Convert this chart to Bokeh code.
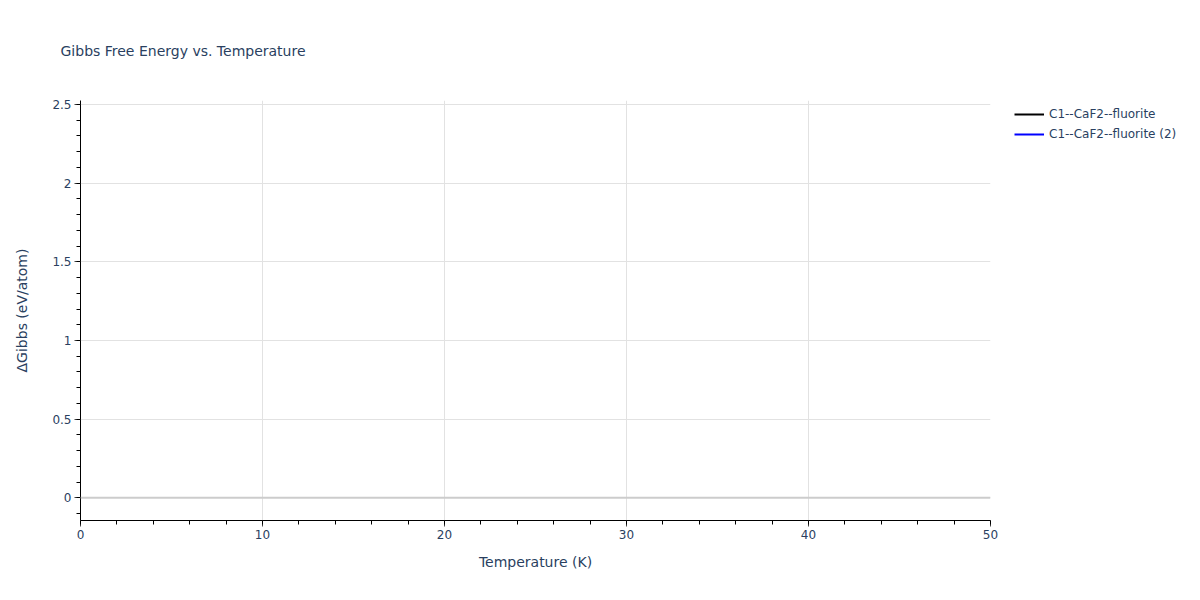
from bokeh.plotting import figure
from bokeh.models import (ColumnDataSource, Range1d, SingleIntervalTicker, CustomJSTickFormatter,
                          Legend, LegendItem, Span)
from bokeh.embed import file_html
from bokeh.resources import INLINE

nan = float("nan")

# ---- data (the reference shows no plottable values for either series) ----
series_names = ["C1--CaF2--fluorite", "C1--CaF2--fluorite (2)"]
series_colors = ["black", "blue"]
temperature_1 = [nan]
gibbs_1 = [nan]
temperature_2 = [nan]
gibbs_2 = [nan]

title_text = "Gibbs Free Energy vs. Temperature"
x_title = "Temperature (K)"
y_title = "\u0394Gibbs (eV/atom)"

FONT = "DejaVu Sans"
TXT = "#2a3f5f"

p = figure(frame_width=910, frame_height=420, output_backend="svg", toolbar_location=None,
           x_range=Range1d(0, 50), y_range=Range1d(-0.144, 2.525),
           min_border_left=80, min_border_right=0, min_border_top=100, min_border_bottom=72,
           title=title_text)
p.outline_line_color = None
p.background_fill_color = "white"

p.title.text_font = FONT
p.title.text_font_size = "14px"
p.title.text_font_style = "normal"
p.title.text_color = TXT
p.title.align = "left"
p.title.vertical_align = "top"
p.title.offset = -20
p.title.standoff = 80

src1 = ColumnDataSource(dict(x=temperature_1, y=gibbs_1))
src2 = ColumnDataSource(dict(x=temperature_2, y=gibbs_2))
r1 = p.line("x", "y", source=src1, line_color=series_colors[0], line_width=2)
r2 = p.line("x", "y", source=src2, line_color=series_colors[1], line_width=2)

# axes
p.xaxis.ticker = SingleIntervalTicker(interval=10, num_minor_ticks=5)
p.yaxis.ticker = SingleIntervalTicker(interval=0.5, num_minor_ticks=5)
fmt = "return String(Math.round(tick*1000)/1000);"
p.xaxis.formatter = CustomJSTickFormatter(code=fmt)
p.yaxis.formatter = CustomJSTickFormatter(code=fmt)
for ax in (p.xaxis[0], p.yaxis[0]):
    ax.axis_line_color = "black"
    ax.axis_line_width = 1
    ax.major_tick_line_color = "#444444"
    ax.major_tick_out = 6
    ax.major_tick_in = 0
    ax.minor_tick_line_color = "black"
    ax.minor_tick_out = 4
    ax.minor_tick_in = 0
    ax.major_label_text_font = FONT
    ax.major_label_text_font_size = "12px"
    ax.major_label_text_color = TXT
    ax.major_label_standoff = 3
    ax.axis_label_text_font = FONT
    ax.axis_label_text_font_size = "14px"
    ax.axis_label_text_font_style = "normal"
    ax.axis_label_text_color = TXT
p.xaxis.axis_label = x_title
p.yaxis.axis_label = y_title
p.xaxis.axis_label_standoff = 12
p.yaxis.axis_label_standoff = 19

# grid
p.xgrid.grid_line_color = "#e2e2e2"
p.ygrid.grid_line_color = "#e2e2e2"
p.add_layout(Span(location=0, dimension="width", line_color="#cccccc", line_width=2))

# legend
legend = Legend(items=[LegendItem(label=series_names[0], renderers=[r1]),
                       LegendItem(label=series_names[1], renderers=[r2])],
                location=(24, 378.5), margin=0, padding=5, spacing=4,
                label_height=16, glyph_height=16, glyph_width=30, label_standoff=5,
                label_text_font=FONT, label_text_font_size="12px", label_text_color=TXT,
                border_line_color=None, background_fill_alpha=0)
p.add_layout(legend, "right")

open("out.html", "w").write(file_html(p, INLINE))
